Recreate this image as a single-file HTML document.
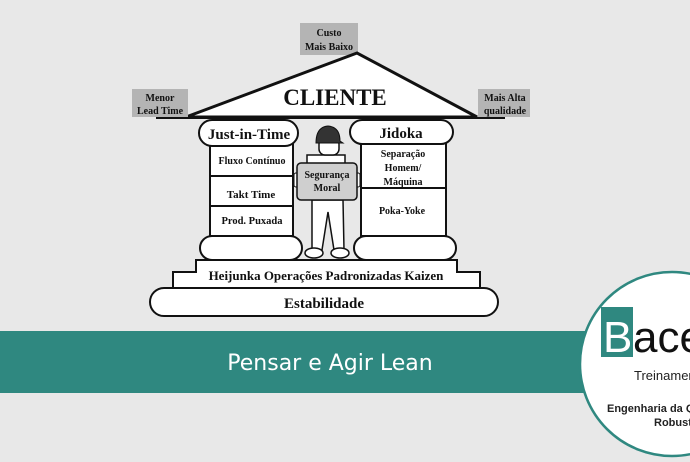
<!DOCTYPE html>
<html><head><meta charset="utf-8"><style>
html,body{margin:0;padding:0;background:#e8e8e8;}
svg{display:block}
text{font-family:"Liberation Serif",serif;font-weight:bold;fill:#111;}
</style></head><body>
<svg width="690" height="462" viewBox="0 0 690 462" xmlns="http://www.w3.org/2000/svg">
<rect width="690" height="462" fill="#e8e8e8"/>
<!-- top labels -->
<rect x="300" y="23" width="58" height="32" fill="#b4b4b4"/>
<text x="329" y="36" font-size="10" text-anchor="middle">Custo</text>
<text x="329" y="50" font-size="10" text-anchor="middle">Mais Baixo</text>
<!-- roof -->
<polygon points="357,53 186,117 477,117" fill="#fff" stroke="#111" stroke-width="3" stroke-linejoin="miter"/>
<line x1="156" y1="118" x2="505" y2="118" stroke="#111" stroke-width="2"/>
<rect x="132" y="89" width="56" height="28" fill="#b4b4b4"/>
<text x="160" y="101" font-size="10" text-anchor="middle">Menor</text>
<text x="160" y="114" font-size="10" text-anchor="middle">Lead Time</text>
<rect x="478" y="89" width="52" height="28" fill="#b4b4b4"/>
<text x="505" y="101" font-size="10" text-anchor="middle">Mais Alta</text>
<text x="505" y="114" font-size="10" text-anchor="middle">qualidade</text>
<text x="335" y="105" font-size="23" text-anchor="middle">CLIENTE</text>
<!-- left column -->
<rect x="210" y="144" width="83" height="92" fill="#fff" stroke="#111" stroke-width="2"/>
<line x1="210" y1="176" x2="293" y2="176" stroke="#111" stroke-width="2"/>
<line x1="210" y1="206" x2="293" y2="206" stroke="#111" stroke-width="2"/>
<rect x="199" y="120" width="99" height="26" rx="13" fill="#fff" stroke="#111" stroke-width="2"/>
<text x="249" y="139" font-size="15" text-anchor="middle">Just-in-Time</text>
<text x="252" y="164" font-size="10" text-anchor="middle">Fluxo Contínuo</text>
<text x="251" y="198" font-size="11" text-anchor="middle">Takt Time</text>
<text x="252" y="224" font-size="10.5" text-anchor="middle">Prod. Puxada</text>
<rect x="200" y="236" width="102" height="24" rx="12" fill="#fff" stroke="#111" stroke-width="2"/>
<!-- right column -->
<rect x="361" y="143" width="85" height="93" fill="#fff" stroke="#111" stroke-width="2"/>
<line x1="361" y1="188" x2="446" y2="188" stroke="#111" stroke-width="2"/>
<rect x="350" y="120" width="103" height="24" rx="12" fill="#fff" stroke="#111" stroke-width="2"/>
<text x="401" y="138" font-size="15" text-anchor="middle">Jidoka</text>
<text x="403" y="157" font-size="10" text-anchor="middle">Separação</text>
<text x="403" y="171" font-size="10" text-anchor="middle">Homem/</text>
<text x="403" y="185" font-size="10" text-anchor="middle">Máquina</text>
<text x="402" y="214" font-size="10" text-anchor="middle">Poka-Yoke</text>
<rect x="354" y="236" width="102" height="24" rx="12" fill="#fff" stroke="#111" stroke-width="2"/>
<!-- person -->
<polygon points="312,200 343,200 344,250 334,250 328,212 322,250 312,250" fill="#fff" stroke="#111" stroke-width="1.5"/>
<ellipse cx="314" cy="253" rx="9" ry="5" fill="#fff" stroke="#111" stroke-width="1.5"/>
<ellipse cx="340" cy="253" rx="9" ry="5" fill="#fff" stroke="#111" stroke-width="1.5"/>
<rect x="307" y="155" width="38" height="10" fill="#fff" stroke="#111" stroke-width="1.5"/>
<rect x="319" y="138" width="20" height="17" rx="6" fill="#fff" stroke="#111" stroke-width="1.5"/>
<path d="M316,143 Q316,127 328,126 Q340,127 340,141 L343,143 Z" fill="#333" stroke="#111"/>
<rect x="294" y="173" width="5" height="14" rx="2" fill="#fff" stroke="#111"/>
<rect x="355" y="173" width="5" height="14" rx="2" fill="#fff" stroke="#111"/>
<rect x="297" y="163" width="60" height="37" rx="4" fill="#cfcfcf" stroke="#111" stroke-width="1.5"/>
<text x="327" y="178" font-size="10" text-anchor="middle">Segurança</text>
<text x="327" y="191" font-size="10" text-anchor="middle">Moral</text>
<!-- steps -->
<polygon points="196,260 457,260 457,272 480,272 480,288 173,288 173,272 196,272" fill="#fff" stroke="#111" stroke-width="2"/>
<text x="326" y="280" font-size="13" text-anchor="middle">Heijunka  Operações Padronizadas  Kaizen</text>
<rect x="150" y="288" width="348" height="28" rx="14" fill="#fff" stroke="#111" stroke-width="2"/>
<text x="324" y="308" font-size="15" text-anchor="middle">Estabilidade</text>
<!-- band -->
<rect x="0" y="331" width="690" height="62" fill="#2f8880"/>
<text x="330" y="370" font-size="22" text-anchor="middle" style="font-family:'DejaVu Sans',sans-serif;font-weight:normal;fill:#fff">Pensar e Agir Lean</text>
<!-- logo circle -->
<circle cx="672" cy="364" r="92" fill="#fff" stroke="#2f8880" stroke-width="2.5"/>
<rect x="601" y="307" width="32" height="50" fill="#2f8880"/>
<text x="603" y="352" font-size="44" style="font-family:'Liberation Sans',sans-serif;font-weight:normal;fill:#fff">B</text>
<text x="633" y="352" font-size="44" style="font-family:'Liberation Sans',sans-serif;font-weight:normal;fill:#111">ace</text>
<text x="634" y="380" font-size="13" style="font-family:'Liberation Sans',sans-serif;font-weight:normal;fill:#222">Treinamentos</text>
<text x="607" y="412" font-size="11" style="font-family:'Liberation Sans',sans-serif;fill:#222">Engenharia da Qualidade</text>
<text x="654" y="426" font-size="11" style="font-family:'Liberation Sans',sans-serif;fill:#222">Robustez</text>
</svg>
</body></html>
